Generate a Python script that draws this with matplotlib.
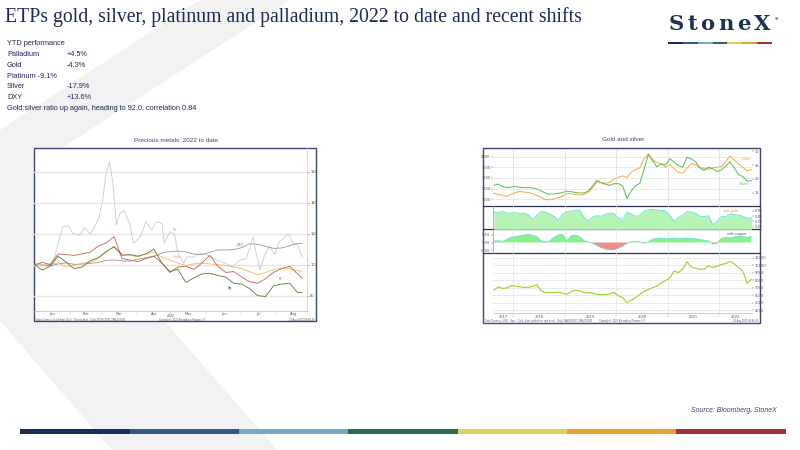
import numpy as np
import pandas as pd
import matplotlib
matplotlib.use("Agg")
import matplotlib.pyplot as plt
from matplotlib.patches import Polygon, Rectangle

W, H = 800, 450
SANS = ["Liberation Sans", "DejaVu Sans"]
SERIF = ["Liberation Serif", "DejaVu Serif"]
NAVY = "#1f2a5c"
SLATE = "#3d4775"

# ---- text block ----
title = "ETPs gold, silver, platinum and palladium, 2022 to date and recent shifts"
perf_names = ["Palladium", "Gold", "Platinum -9.1%", "Silver", "DXY"]
perf_values = ["+4.5%", "-4.3%", "", "-17.9%", "+13.6%"]
ratio_note = "Gold:silver ratio up again, heading to 92.0, correlation 0.84"

# ---- left chart: 2022 YTD, indexed to 100 (day of year) ----
wk_days = [0, 7, 14, 21, 28, 35, 42, 49, 56, 63, 70, 77, 84, 91, 98, 105, 112,
           119, 126, 133, 140, 147, 154, 161, 168, 175, 182, 189, 196, 203,
           210, 217, 224, 231, 235]
ag = [100, 96.5, 99, 105.5, 101.5, 97.5, 98.5, 102.5, 104.5, 108.5, 111.5, 106,
      106.5, 105.5, 107, 110, 101, 95.5, 97, 88.5, 91.5, 94, 94.5, 93, 92, 88,
      87.5, 84.5, 80, 79.5, 86.5, 87.5, 88, 82, 82.1]
gold = [100, 99.5, 100.5, 101, 98.5, 99.5, 101, 101.5, 104, 108, 112, 107, 106,
        105, 107, 108, 105, 103, 101, 99.5, 100.5, 101, 100.5, 100, 99.5, 98.5,
        97.5, 95.5, 93.5, 95, 97, 97.5, 97.5, 96, 95.7]
pt = [100, 101.5, 100, 107, 106.5, 106, 107, 108, 112, 114, 118, 104, 103, 102,
      104, 105.5, 101, 95, 98.5, 99, 97, 101, 106, 99, 95, 95.5, 92, 89, 88, 91,
      95, 97.5, 99, 94, 91.2]
dxy = [100, 99.8, 99.3, 100.5, 101.2, 100.2, 100.4, 100.8, 101.5, 102.8, 103,
       102.5, 102.3, 103.5, 104.5, 105.5, 107.5, 108.5, 108.8, 108.2, 106.8,
       106.5, 108, 109.5, 109.5, 109.8, 111, 113.5, 113.2, 111.8, 110.5, 110.8,
       112.2, 113.8, 113.6]
pd_days = [0, 5, 11, 17, 21, 25, 30, 34, 40, 44, 49, 53, 57, 60, 63, 66, 69, 72,
           75, 79, 84, 87, 93, 98, 103, 107, 112, 114, 119, 123, 126, 131, 134,
           140, 145, 151, 160, 166, 174, 180, 186, 192, 195, 198, 202, 206, 211,
           215, 220, 223, 227, 231, 235]
pd_vals = [98.7, 101, 98.7, 103, 113.8, 124.5, 125, 120, 119, 124, 120, 124.5,
           131, 141.7, 159, 166.5, 152.5, 125.6, 133, 135, 125.6, 113.8, 118,
           127.7, 122.4, 127.7, 126.7, 113.8, 121.3, 120, 107.4, 101, 105, 105,
           107.4, 106.6, 102.8, 101.5, 98.7, 102.8, 104, 118, 106, 96.6, 106,
           111.6, 106.6, 114.8, 118, 120, 113.8, 112.7, 105]
month_names = ["Jan", "Feb", "Mar", "Apr", "May", "Jun", "Jul", "Aug"]

# ---- right chart: monthly, Aug 2017 - Aug 2022 ----
gold_px = [1313, 1290, 1270, 1255, 1290, 1325, 1344, 1335, 1325, 1305, 1270,
           1235, 1195, 1188, 1210, 1230, 1260, 1310, 1300, 1290, 1280, 1290,
           1330, 1420, 1530, 1510, 1500, 1515, 1580, 1610, 1640, 1600, 1710,
           1750, 1790, 1960, 2050, 1940, 1890, 1860, 1800, 1850, 1770, 1700,
           1690, 1780, 1870, 1850, 1790, 1780, 1760, 1790, 1800, 1810, 1900,
           2010, 1940, 1860, 1800, 1730, 1755]
silver_px = [17.6, 18.1, 17.2, 16.8, 17.0, 17.2, 16.9, 16.8, 16.8, 16.7, 16.3,
             15.6, 14.8, 14.4, 14.5, 14.7, 15.0, 15.5, 15.3, 15.0, 14.8, 14.9,
             15.5, 17.4, 19.4, 18.5, 18.0, 17.6, 18.2, 18.2, 17.5, 12.8, 15.6,
             17.5, 18.3, 23.5, 28.8, 26.5, 24.3, 25.5, 25.0, 27.3, 26.0, 24.8,
             24.2, 27.8, 27.2, 26.2, 24.0, 23.0, 24.2, 23.6, 22.6, 23.2, 24.6,
             26.2, 24.0, 21.5, 20.8, 19.1, 19.3]
corr_gold = [0.88, 0.87, 0.89, 0.86, 0.86, 0.87, 0.85, 0.86, 0.83, 0.74, 0.82,
             0.89, 0.88, 0.84, 0.80, 0.72, 0.84, 0.89, 0.90, 0.92, 0.91, 0.78,
             0.71, 0.79, 0.81, 0.80, 0.84, 0.86, 0.85, 0.76, 0.74, 0.88, 0.84,
             0.80, 0.81, 0.90, 0.92, 0.93, 0.92, 0.91, 0.90, 0.82, 0.70, 0.78,
             0.82, 0.89, 0.88, 0.85, 0.80, 0.79, 0.81, 0.64, 0.70, 0.80, 0.79,
             0.84, 0.83, 0.82, 0.80, 0.76, 0.77]
corr_copper = [0.10, 0.12, 0.08, 0.20, 0.35, 0.40, 0.45, 0.50, 0.55, 0.48, 0.40,
               0.12, 0.05, 0.10, 0.35, 0.50, 0.55, 0.10, 0.45, 0.50, 0.40, 0.12,
               0.05, -0.05, -0.20, -0.35, -0.45, -0.50, -0.48, -0.38, -0.25,
               -0.05, 0.05, 0.08, 0.03, -0.06, 0.05, 0.22, 0.28, 0.30, 0.26,
               0.28, 0.30, 0.25, 0.28, 0.30, 0.27, 0.25, 0.20, 0.15, 0.10, -0.10,
               -0.05, 0.28, 0.35, 0.30, 0.38, 0.42, 0.40, 0.35, 0.40]
copper_px = [6650, 7100, 6900, 6950, 7250, 7200, 7100, 7000, 7050, 7150, 7400,
             6600, 6300, 6350, 6350, 6400, 6250, 6100, 6450, 6650, 6550, 6350,
             6300, 6250, 6100, 6050, 6050, 6150, 6350, 5900, 5650, 5000, 5300,
             5650, 6100, 6500, 6750, 7000, 7200, 7650, 7950, 8300, 9200, 9000,
             9500, 10450, 9750, 9600, 9450, 9500, 9900, 9700, 9850, 10100, 10200,
             10500, 10200, 9700, 9200, 7600, 8100]
years = ["2017", "2018", "2019", "2020", "2021", "2022"]

months = pd.date_range("2017-08-01", "2022-08-01", freq="MS")
t = np.array(months.year + (months.month - 0.5) / 12.0)
corr_copper = np.array(corr_copper)

bar_colors = ["#1d2a5c", "#335a86", "#78a8c8", "#2b6a4c", "#ddd25a", "#e9a232", "#a52d35"]

fig = plt.figure(figsize=(8, 4.5), dpi=100)


def px_axes(x0, y0, x1, y1, **kw):
    return fig.add_axes([x0 / W, 1 - y1 / H, (x1 - x0) / W, (y1 - y0) / H], **kw)


def ftext(x, y, s, **kw):
    kw.setdefault("family", SANS)
    return fig.text(x / W, 1 - y / H, s, **kw)


# background layer in pixel coordinates
bg = px_axes(0, 0, W, H)
bg.set_xlim(0, W)
bg.set_ylim(H, 0)
bg.axis("off")
bg.add_patch(Polygon([(200, 0), (290, 0), (31, 168), (277, 450), (112, 450),
                      (0, 321), (0, 130)], closed=True, fc="#f2f2f2", ec="none"))
bg.add_patch(Rectangle((34.3, 147.7), 281.7, 173.3, fc="white", ec=SLATE, lw=1.0))
bg.add_patch(Rectangle((483, 147.7), 277, 175, fc="white", ec=SLATE, lw=1.0))
for ysep in [206, 229.3, 253.3]:
    bg.plot([483, 760], [ysep, ysep], color="#2e3550", lw=0.9)

# colour bars
for i, c in enumerate(bar_colors):
    x0 = 20.4 + i * (785.7 - 20.4) / 7
    bg.add_patch(Rectangle((x0, 429.3), (785.7 - 20.4) / 7, 5, fc=c, ec="none"))
    x0 = 668.3 + i * (771.7 - 668.3) / 7
    bg.add_patch(Rectangle((x0, 41.7), (771.7 - 668.3) / 7, 2.2, fc=c, ec="none"))

# header text
ftext(5, 17, title, fontsize=14.2, family=SERIF, color=NAVY, va="center")
ftext(7, 43.5, "YTD performance", fontsize=5.3, color=NAVY, va="center")
for i, (n, v) in enumerate(zip(perf_names, perf_values)):
    y = 54.5 + i * 10.8
    ftext(7, y, n, fontsize=5.3, color=NAVY, va="center")
    ftext(66.5, y, v, fontsize=5.3, color=NAVY, va="center")
ftext(7, 108.5, ratio_note, fontsize=5.3, color=NAVY, va="center")

# logo: letters spread over the logo width
renderer = fig.canvas.get_renderer()
logo_font = dict(family=["DejaVu Serif"], weight="bold", color="#1f3057", va="baseline")
probe = [ftext(0, 0, ch, fontsize=10, **logo_font) for ch in "StoneX"]
widths = [p.get_window_extent(renderer).width for p in probe]
for p in probe:
    p.remove()
gap = 3.5
size = 10 * (102 - 5 * gap) / sum(widths)
x = 668.3
for ch, w in zip("StoneX", widths):
    ftext(x, 30, ch, fontsize=size, **logo_font)
    x += w * size / 10 + gap
ftext(775, 19, "TM", fontsize=2.2, color="#1f3057", va="center")

ftext(777, 411, "Source: Bloomberg, StoneX", fontsize=4.95, style="italic",
      color=SLATE, ha="right", va="center")

# ---- left chart ----
ftext(176, 140, "Precious metals  2022 to date", fontsize=4.6, color=SLATE,
      ha="center", va="center")
ax = px_axes(34.3, 147.7, 306.7, 310.7)
ax.patch.set_alpha(0)
ax.set_xlim(0, 239)
ax.set_ylim(70.3, 175.5)
ax.plot(pd_days, pd_vals, color="#c7cbd5", lw=0.6)
ax.plot(wk_days, dxy, color="#a4958e", lw=0.6)
ax.plot(wk_days, gold, color="#f9b862", lw=0.6)
ax.plot(wk_days, pt, color="#c2605b", lw=0.6)
ax.plot(wk_days, ag, color="#5f7a3a", lw=0.6)
for s, xx, yy, c in [("Pd", 121.7, 122.4, "#9aa0ad"), ("DXY", 177.5, 112.7, "#7a6e68"),
                     ("Gold", 122, 105.2, "#f0a040"), ("Pt", 214.6, 90.8, "#b05050"),
                     ("Ag", 170.2, 85.2, "#4f6a30")]:
    ax.text(xx, yy, s, fontsize=2.6, color=c, family=SANS, va="center")
ax.grid(axis="y", color="#e6e6e6", lw=1.0)
ax.set_yticks([80, 100, 120, 140, 160])
ax.yaxis.tick_right()
ax.tick_params(axis="y", labelsize=2.6, length=1.5, width=0.4, colors="#555555", pad=1)
ax.set_xticks([0, 31, 59, 90, 120, 151, 181, 212])
ax.set_xticklabels([])
ax.set_xticks([15.5, 45, 74.5, 105, 135.5, 166, 196.5, 227.5], minor=True)
ax.set_xticklabels(month_names, minor=True)
ax.tick_params(axis="x", which="major", length=3, width=0.3, colors="#bbbbbb")
ax.tick_params(axis="x", which="minor", length=0, labelsize=2.6, labelcolor="#555555", pad=1)
for sp in ["top", "left"]:
    ax.spines[sp].set_visible(False)
ax.spines["right"].set_color("#cccccc")
ax.spines["bottom"].set_color("#bbbbbb")
for sp in ["right", "bottom"]:
    ax.spines[sp].set_linewidth(0.5)
ftext(171, 316, "2022", fontsize=2.6, color="#555555", ha="center", va="center")
ftext(36, 319.5, "Data Currency: Gold Spot  $/Oz   Price Indices   Daily 31DEC2021-24AUG2022",
      fontsize=1.8, color="#555555", va="center")
ftext(182, 319.5, "Copyright\u00a9 2022 Bloomberg Finance L.P.", fontsize=1.8,
      color="#555555", ha="center", va="center")
ftext(314, 319.5, "24-Aug-2022 09:46:30", fontsize=1.8, color="#555555",
      ha="right", va="center")

# ---- right chart ----
ftext(623, 139.5, "Gold and silver", fontsize=4.6, color=SLATE, ha="center", va="center")
XL = (2017.617, 2022.637)
year_edges = [2018, 2019, 2020, 2021, 2022]


def style_panel(a):
    a.patch.set_alpha(0)
    a.set_xlim(*XL)
    a.set_xticks(year_edges)
    a.set_xticklabels([])
    a.tick_params(axis="x", length=0)
    for xe in year_edges:
        a.axvline(xe, color="#e4e4e4", lw=0.5, zorder=0)
    for sp in a.spines.values():
        sp.set_visible(False)
    a.tick_params(axis="y", labelsize=2.6, length=1.2, width=0.3, colors="#555555", pad=1)


# panel 1: gold (left) and silver (right)
a1 = px_axes(493.5, 148.5, 752, 206)
style_panel(a1)
a1.set_ylim(1073, 2151)
a1.set_yticks([1200, 1400, 1600, 1800, 2000])
a1.grid(axis="y", color="#e6e6e6", lw=0.6)
a1.plot(t, gold_px, color="#f7a843", lw=0.7, zorder=3)
a1s = a1.twinx()
style_panel(a1s)
a1s.set_ylim(10.1, 31.0)
a1s.set_yticks([15, 20, 25, 30])
a1s.plot(t, silver_px, color="#4fc24f", lw=0.7)
ftext(741.7, 159.3, "Gold", fontsize=3, color="#f5a742", va="center")
ftext(739.3, 184, "Silver", fontsize=3, color="#55c055", va="center")

# panel 2: gold/silver correlation
a2 = px_axes(493.5, 206, 752, 229.3)
style_panel(a2)
a2.set_ylim(0.55, 0.995)
a2.fill_between(t, 0.55, corr_gold, color="#b6f4b6", lw=0)
a2.plot(t, corr_gold, color="#5ee0dc", lw=0.6)
a2.yaxis.tick_right()
a2.set_yticks([0.6, 0.7, 0.8, 0.9])
a2.set_yticklabels(["0.60", "0.70", "0.80", "0.90"])
a2.spines["left"].set_visible(True)
a2.spines["left"].set_color("#999999")
a2.spines["left"].set_linewidth(0.5)
ftext(723, 210.5, "with gold", fontsize=2.8, color="#f0a040", va="center")

# panel 3: silver/copper correlation
a3 = px_axes(493.5, 229.3, 752, 253.3)
style_panel(a3)
a3.set_ylim(-0.72, 0.88)
a3.fill_between(t, 0, corr_copper, where=corr_copper >= 0, interpolate=True,
                color="#8eef8e", lw=0)
a3.fill_between(t, 0, corr_copper, where=corr_copper < 0, interpolate=True,
                color="#f28c8c", lw=0)
a3.plot(t, corr_copper, color="#5ee0dc", lw=0.5)
a3.set_yticks([-0.5, 0, 0.5])
a3.set_yticklabels(["-0.50", "0.00", "0.50"])
a3.spines["left"].set_visible(True)
a3.spines["left"].set_color("#999999")
a3.spines["left"].set_linewidth(0.5)
ftext(726.7, 234.5, "with copper", fontsize=2.8, color="#3a7a3a", va="center")

# panel 4: copper
a4 = px_axes(493.5, 253.3, 752, 313)
style_panel(a4)
a4.set_ylim(3600, 11590)
a4.set_yticks([4000, 5000, 6000, 7000, 8000, 9000, 10000, 11000])
a4.yaxis.tick_right()
a4.grid(axis="y", color="#e6e6e6", lw=0.6)
a4.plot(t, copper_px, color="#9bd22a", lw=0.8)
a4.spines["bottom"].set_visible(True)
a4.spines["bottom"].set_color("#bbbbbb")
a4.spines["bottom"].set_linewidth(0.5)
a4.tick_params(axis="x", which="major", length=3, width=0.3, colors="#bbbbbb")
a4.set_xticks([2017.81, 2018.5, 2019.5, 2020.5, 2021.5, 2022.32], minor=True)
a4.set_xticklabels(years, minor=True)
a4.tick_params(axis="x", which="minor", length=0, labelsize=2.6, labelcolor="#555555", pad=1.5)
ftext(485, 320.8, "Data Currency: USD   Spot   Gold, silver, gold:silver, and correl.  Daily 18AUG2017-24AUG2022",
      fontsize=1.8, color="#555555", va="center")
ftext(622, 320.8, "Copyright\u00a9 2022 Bloomberg Finance L.P.", fontsize=1.8,
      color="#555555", ha="center", va="center")
ftext(758, 320.8, "24-Aug-2022 09:46:30", fontsize=1.8, color="#555555",
      ha="right", va="center")

fig.savefig("out.png", dpi=100)
